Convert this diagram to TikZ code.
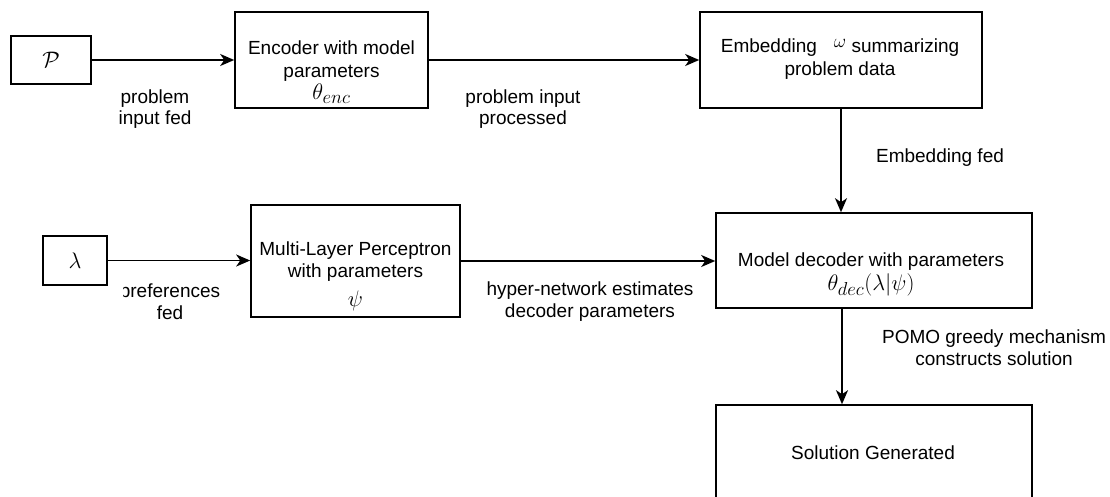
\documentclass[tikz,border=0pt]{standalone}
\usepackage{graphicx}
\usepackage{fontspec}
\setmainfont{Liberation Sans}
\usetikzlibrary{arrows.meta}
% math set at a size matching the 19pt text
\newcommand{\mth}[1]{\scalebox{1.3}{$#1$}}

\begin{document}
\begin{tikzpicture}[x=1pt,y=-1pt,
  box/.style={draw=black, line width=1.6pt, inner sep=0pt, fill=white,
    font=\fontsize{19}{22.5}\selectfont},
  txt/.style={inner sep=0pt, align=center, font=\fontsize{19}{22.5}\selectfont},
  lbl/.style={inner sep=0pt, align=center, font=\fontsize{19}{21.7}\selectfont},
  flow/.style={line width=1.6pt, -{Stealth[length=14pt,width=12pt,inset=4pt]}}
]
\clip (0,0) rectangle (1110,496);

% boxes
\node[box, minimum width=80, minimum height=48] (p) at (51,60) {\mth{\mathcal{P}}};
\node[box, minimum width=193, minimum height=96] (enc) at (331.5,60) {};
\node[box, minimum width=282, minimum height=96] (emb) at (841,60) {};
\node[box, minimum width=64, minimum height=49] (lam) at (75,260.5) {\mth{\lambda}};
\node[box, minimum width=209, minimum height=112] (mlp) at (355.5,261) {};
\node[box, minimum width=316, minimum height=95] (dec) at (874,260.5) {};
\node[box, minimum width=316, minimum height=110] (sol) at (874,460) {};

% box texts
\node[txt, anchor=north] (enctxt) at (331.5,41) {Encoder with model\\parameters\\\mth{\theta_{enc}}};
\node[txt, anchor=north] (embtxt) at (840,39)
  {Embedding\hspace{17pt}\raisebox{5pt}{\scalebox{1.1}{$\omega$}} summarizing\\problem data};
\node[txt, anchor=north] (mlptxt) at (355.5,241.5) {Multi-Layer Perceptron\\with parameters\\[6pt]\mth{\psi}};
\node[txt, anchor=north] (dectxt) at (871,252.2) {Model decoder with parameters\\[2pt]\mth{\theta_{dec}(\lambda|\psi)}};
\node[txt, anchor=base] (soltxt) at (873,459) {Solution Generated};

% connectors
\draw[flow] (p) -- (enc);
\draw[flow] (enc) -- (emb);
\draw[flow] (emb) -- (emb.south |- dec.north);
\draw[flow] (lam.east) -- (lam.east -| mlp.west);
\draw[flow] (mlp.east) -- (mlp.east -| dec.west);
\draw[flow] ([xshift=-32pt]dec.south) -- ([xshift=-32pt]sol.north);

% connector labels
\node[lbl, anchor=north] (l1) at (155,89.2) {problem\\input fed};
\node[lbl, anchor=north] (l2) at (523,89.2) {problem input\\processed};
\node[lbl, anchor=base] (l3) at (940,162.7) {Embedding fed};
\begin{scope}
  \clip (123,270) rectangle (219,330);
  \node[lbl, anchor=north] (l4) at (170,284) {preferences\\fed};
\end{scope}
\node[lbl, anchor=north] (l5) at (590,281.5) {hyper-network estimates\\decoder parameters};
\node[lbl, anchor=north] (l6) at (994,330) {POMO greedy mechanism\\constructs solution};
\end{tikzpicture}
\end{document}
